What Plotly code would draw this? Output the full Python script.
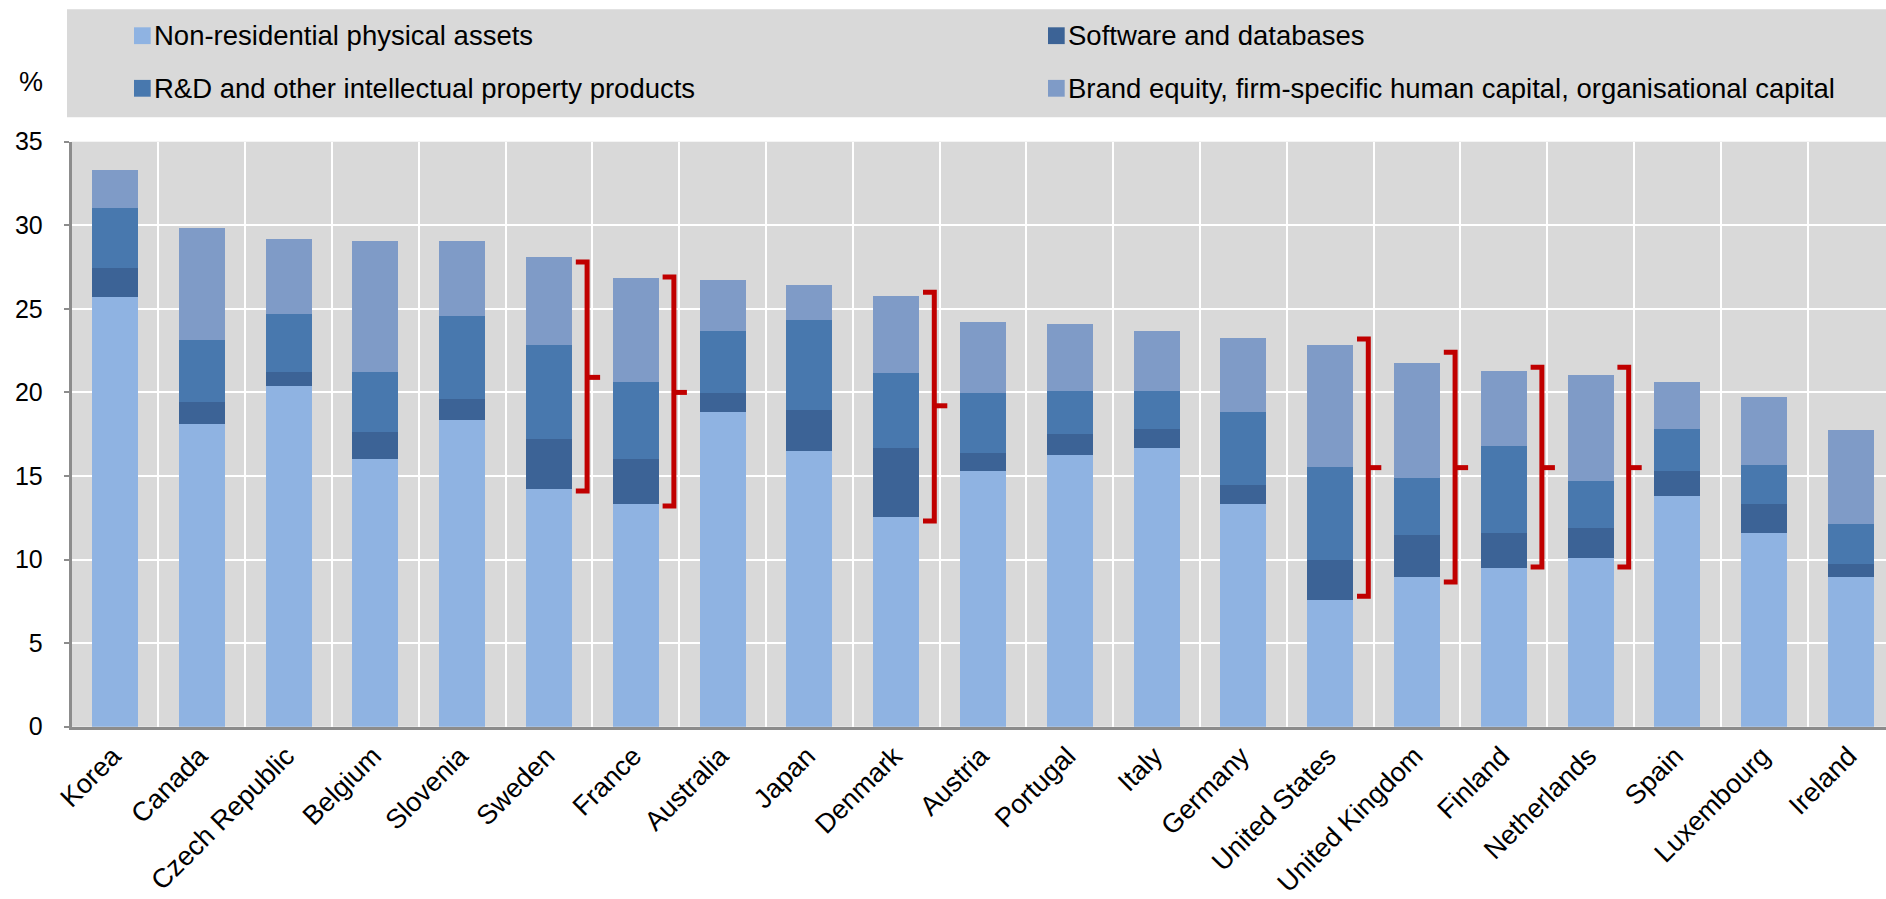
import plotly.graph_objects as go

# ---------------- data ----------------
countries = ["Korea", "Canada", "Czech Republic", "Belgium", "Slovenia", "Sweden",
             "France", "Australia", "Japan", "Denmark", "Austria", "Portugal", "Italy",
             "Germany", "United States", "United Kingdom", "Finland", "Netherlands",
             "Spain", "Luxembourg", "Ireland"]

non_residential = [25.7, 18.1, 20.4, 16.0, 18.35, 14.2, 13.35, 18.85, 16.5, 12.55, 15.3,
                   16.25, 16.65, 13.35, 7.6, 8.95, 9.5, 10.1, 13.8, 11.6, 8.95]
software = [1.75, 1.35, 0.85, 1.65, 1.25, 3.0, 2.65, 1.1, 2.45, 4.1, 1.1,
            1.25, 1.15, 1.1, 2.35, 2.5, 2.1, 1.8, 1.5, 1.75, 0.8]
rnd_ipp = [3.6, 3.7, 3.45, 3.55, 4.95, 5.65, 4.65, 3.75, 5.4, 4.5, 3.55,
           2.6, 2.3, 4.4, 5.6, 3.4, 5.2, 2.8, 2.5, 2.3, 2.35]
brand_org = [2.25, 6.7, 4.5, 7.85, 4.5, 5.25, 6.2, 3.0, 2.1, 4.6, 4.25,
             4.0, 3.6, 4.4, 7.3, 6.9, 4.5, 6.35, 2.8, 4.05, 5.65]

series_names = ["Non-residential physical assets", "Software and databases",
                "R&D and other intellectual property products",
                "Brand equity, firm-specific human capital, organisational capital"]

# red braces: country, lower end, upper end, middle tick
bracket_countries = ["Sweden", "France", "Denmark", "United States",
                     "United Kingdom", "Finland", "Netherlands"]
bracket_low = [14.1, 13.2, 12.3, 7.8, 8.65, 9.55, 9.55]
bracket_high = [27.8, 26.9, 26.0, 23.2, 22.4, 21.5, 21.5]
bracket_mid = [20.9, 20.0, 19.2, 15.5, 15.5, 15.5, 15.5]

y_ticks = [0, 5, 10, 15, 20, 25, 30, 35]

# ---------------- styles ----------------
W, H = 1886, 899
colors = ["#8FB3E2", "#3C6396", "#4878AE", "#7F9BC7"]
FONT = "Liberation Sans, Arial, sans-serif"
x_left_px, spacing_px = 71.5, 86.8
y_zero_px, y_top_px = 726.7, 141.7

x = list(range(len(countries)))
fig = go.Figure()
for name, vals, col in zip(series_names, [non_residential, software, rnd_ipp, brand_org], colors):
    fig.add_trace(go.Bar(x=x, y=vals, name=name, marker=dict(color=col, line=dict(width=0)),
                         width=0.53, showlegend=False))

x_end = -0.5 + (W - x_left_px) / spacing_px

fig.update_layout(
    width=W, height=H, barmode="stack", autosize=False,
    margin=dict(l=0, r=0, t=0, b=0, pad=0),
    paper_bgcolor="white", plot_bgcolor="#D9D9D9",
    font=dict(family=FONT, color="black"),
    xaxis=dict(domain=[x_left_px / W, 1], range=[-0.5, x_end], automargin=False,
               tickmode="array", tickvals=x, ticktext=countries,
               tickangle=-45, tickfont=dict(size=27, family=FONT, color="black"),
               showgrid=False, ticks="", ticklabelstandoff=0, ticklabelshift=-2,
               showline=True, linecolor="#8C8C8C", linewidth=2.5,
               minor=dict(tickmode="array", tickvals=[i - 0.5 for i in range(len(countries) + 1)],
                          showgrid=True, gridcolor="white", gridwidth=2, ticks=""),
               zeroline=False, fixedrange=True),
    yaxis=dict(domain=[1 - y_zero_px / H, 1 - y_top_px / H], range=[0, 35], automargin=False,
               tickmode="array", tickvals=y_ticks,
               tickfont=dict(size=25, family=FONT, color="black"),
               showgrid=True, gridcolor="white", gridwidth=2,
               showline=True, linecolor="#8C8C8C", linewidth=2.5,
               ticks="outside", ticklen=5, tickcolor="#8C8C8C", tickwidth=2,
               ticklabelstandoff=16, zeroline=False, fixedrange=True),
)

shapes = []
# legend box
shapes.append(dict(type="rect", xref="paper", yref="paper",
                   x0=67 / W, x1=1.0, y0=1 - 117.3 / H, y1=1 - 9.3 / H,
                   fillcolor="#D9D9D9", line=dict(width=0), layer="below"))
annotations = []
legend_pos = [(134, 35.7), (1048, 35.7), (134, 88.3), (1048, 88.3)]
for (lx, ly), name, col in zip(legend_pos, series_names, colors):
    shapes.append(dict(type="rect", xref="paper", yref="paper",
                       x0=lx / W, x1=(lx + 16.7) / W,
                       y0=1 - (ly + 8.4) / H, y1=1 - (ly - 8.4) / H,
                       fillcolor=col, line=dict(width=0)))
    annotations.append(dict(xref="paper", yref="paper", x=(lx + 17.5) / W, y=1 - ly / H,
                            xanchor="left", yanchor="middle", showarrow=False,
                            text=name, font=dict(size=27.5, family=FONT, color="black")))

# "%" unit label
annotations.append(dict(xref="paper", yref="paper", x=31 / W, y=1 - 82 / H,
                        xanchor="center", yanchor="middle", showarrow=False,
                        text="%", font=dict(size=27, family=FONT, color="black")))

# red braces
for c, lo, hi, mid in zip(bracket_countries, bracket_low, bracket_high, bracket_mid):
    k = countries.index(c)
    xv, xh, xn = k + 0.44, k + 0.31, k + 0.59
    shapes.append(dict(type="path", xref="x", yref="y",
                       path=f"M {xh},{hi} L {xv},{hi} L {xv},{lo} L {xh},{lo}",
                       line=dict(color="#C00000", width=5)))
    shapes.append(dict(type="path", xref="x", yref="y",
                       path=f"M {xv},{mid} L {xn},{mid}",
                       line=dict(color="#C00000", width=5)))

fig.update_layout(shapes=shapes, annotations=annotations)
fig.write_html("out.html",
               post_script="document.body.style.margin='0';document.body.style.overflow='hidden';")
